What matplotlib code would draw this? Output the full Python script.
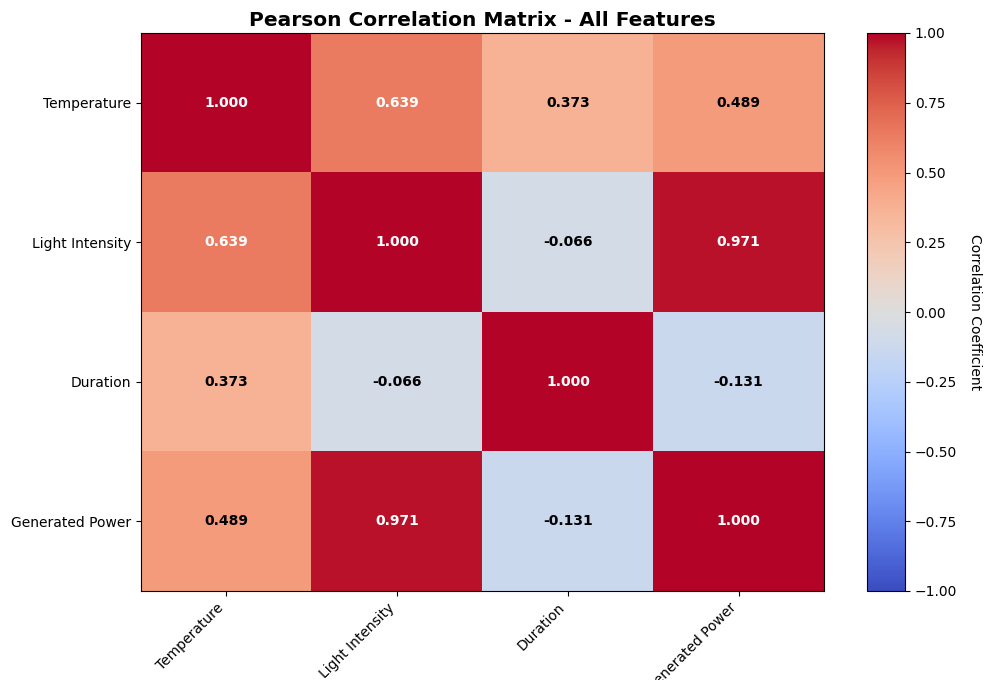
import matplotlib
matplotlib.use("Agg")
import matplotlib.pyplot as plt
import numpy as np

features = ["Temperature", "Light Intensity", "Duration", "Generated Power"]
row_temperature = [1.000, 0.639, 0.373, 0.489]
row_light = [0.639, 1.000, -0.066, 0.971]
row_duration = [0.373, -0.066, 1.000, -0.131]
row_power = [0.489, 0.971, -0.131, 1.000]

corr = np.array([row_temperature, row_light, row_duration, row_power])

fig = plt.figure(figsize=(9.84, 6.8), dpi=100)
ax = fig.add_axes([141/984, 1 - 591/680, 683/984, 558/680])
cax = fig.add_axes([867/984, 1 - 591/680, 38/984, 558/680])

im = ax.imshow(corr, cmap="coolwarm", vmin=-1, vmax=1, aspect="auto")
ax.set_xticks(range(len(features)))
ax.set_yticks(range(len(features)))
ax.set_xticklabels(features, rotation=45, ha="right", fontsize=10)
ax.set_yticklabels(features, fontsize=10)
ax.set_title("Pearson Correlation Matrix - All Features", fontsize=14.5, fontweight="bold", pad=5)

for i in range(len(features)):
    for j in range(len(features)):
        v = corr[i, j]
        color = "white" if abs(v) > 0.5 else "black"
        ax.text(j, i, f"{v:.3f}", ha="center", va="center", color=color,
                fontsize=10, fontweight="bold")

cb = fig.colorbar(im, cax=cax)
cb.set_label("Correlation Coefficient", rotation=270, labelpad=18, fontsize=10)
cb.ax.tick_params(labelsize=10)

fig.savefig("out.png", dpi=100)
